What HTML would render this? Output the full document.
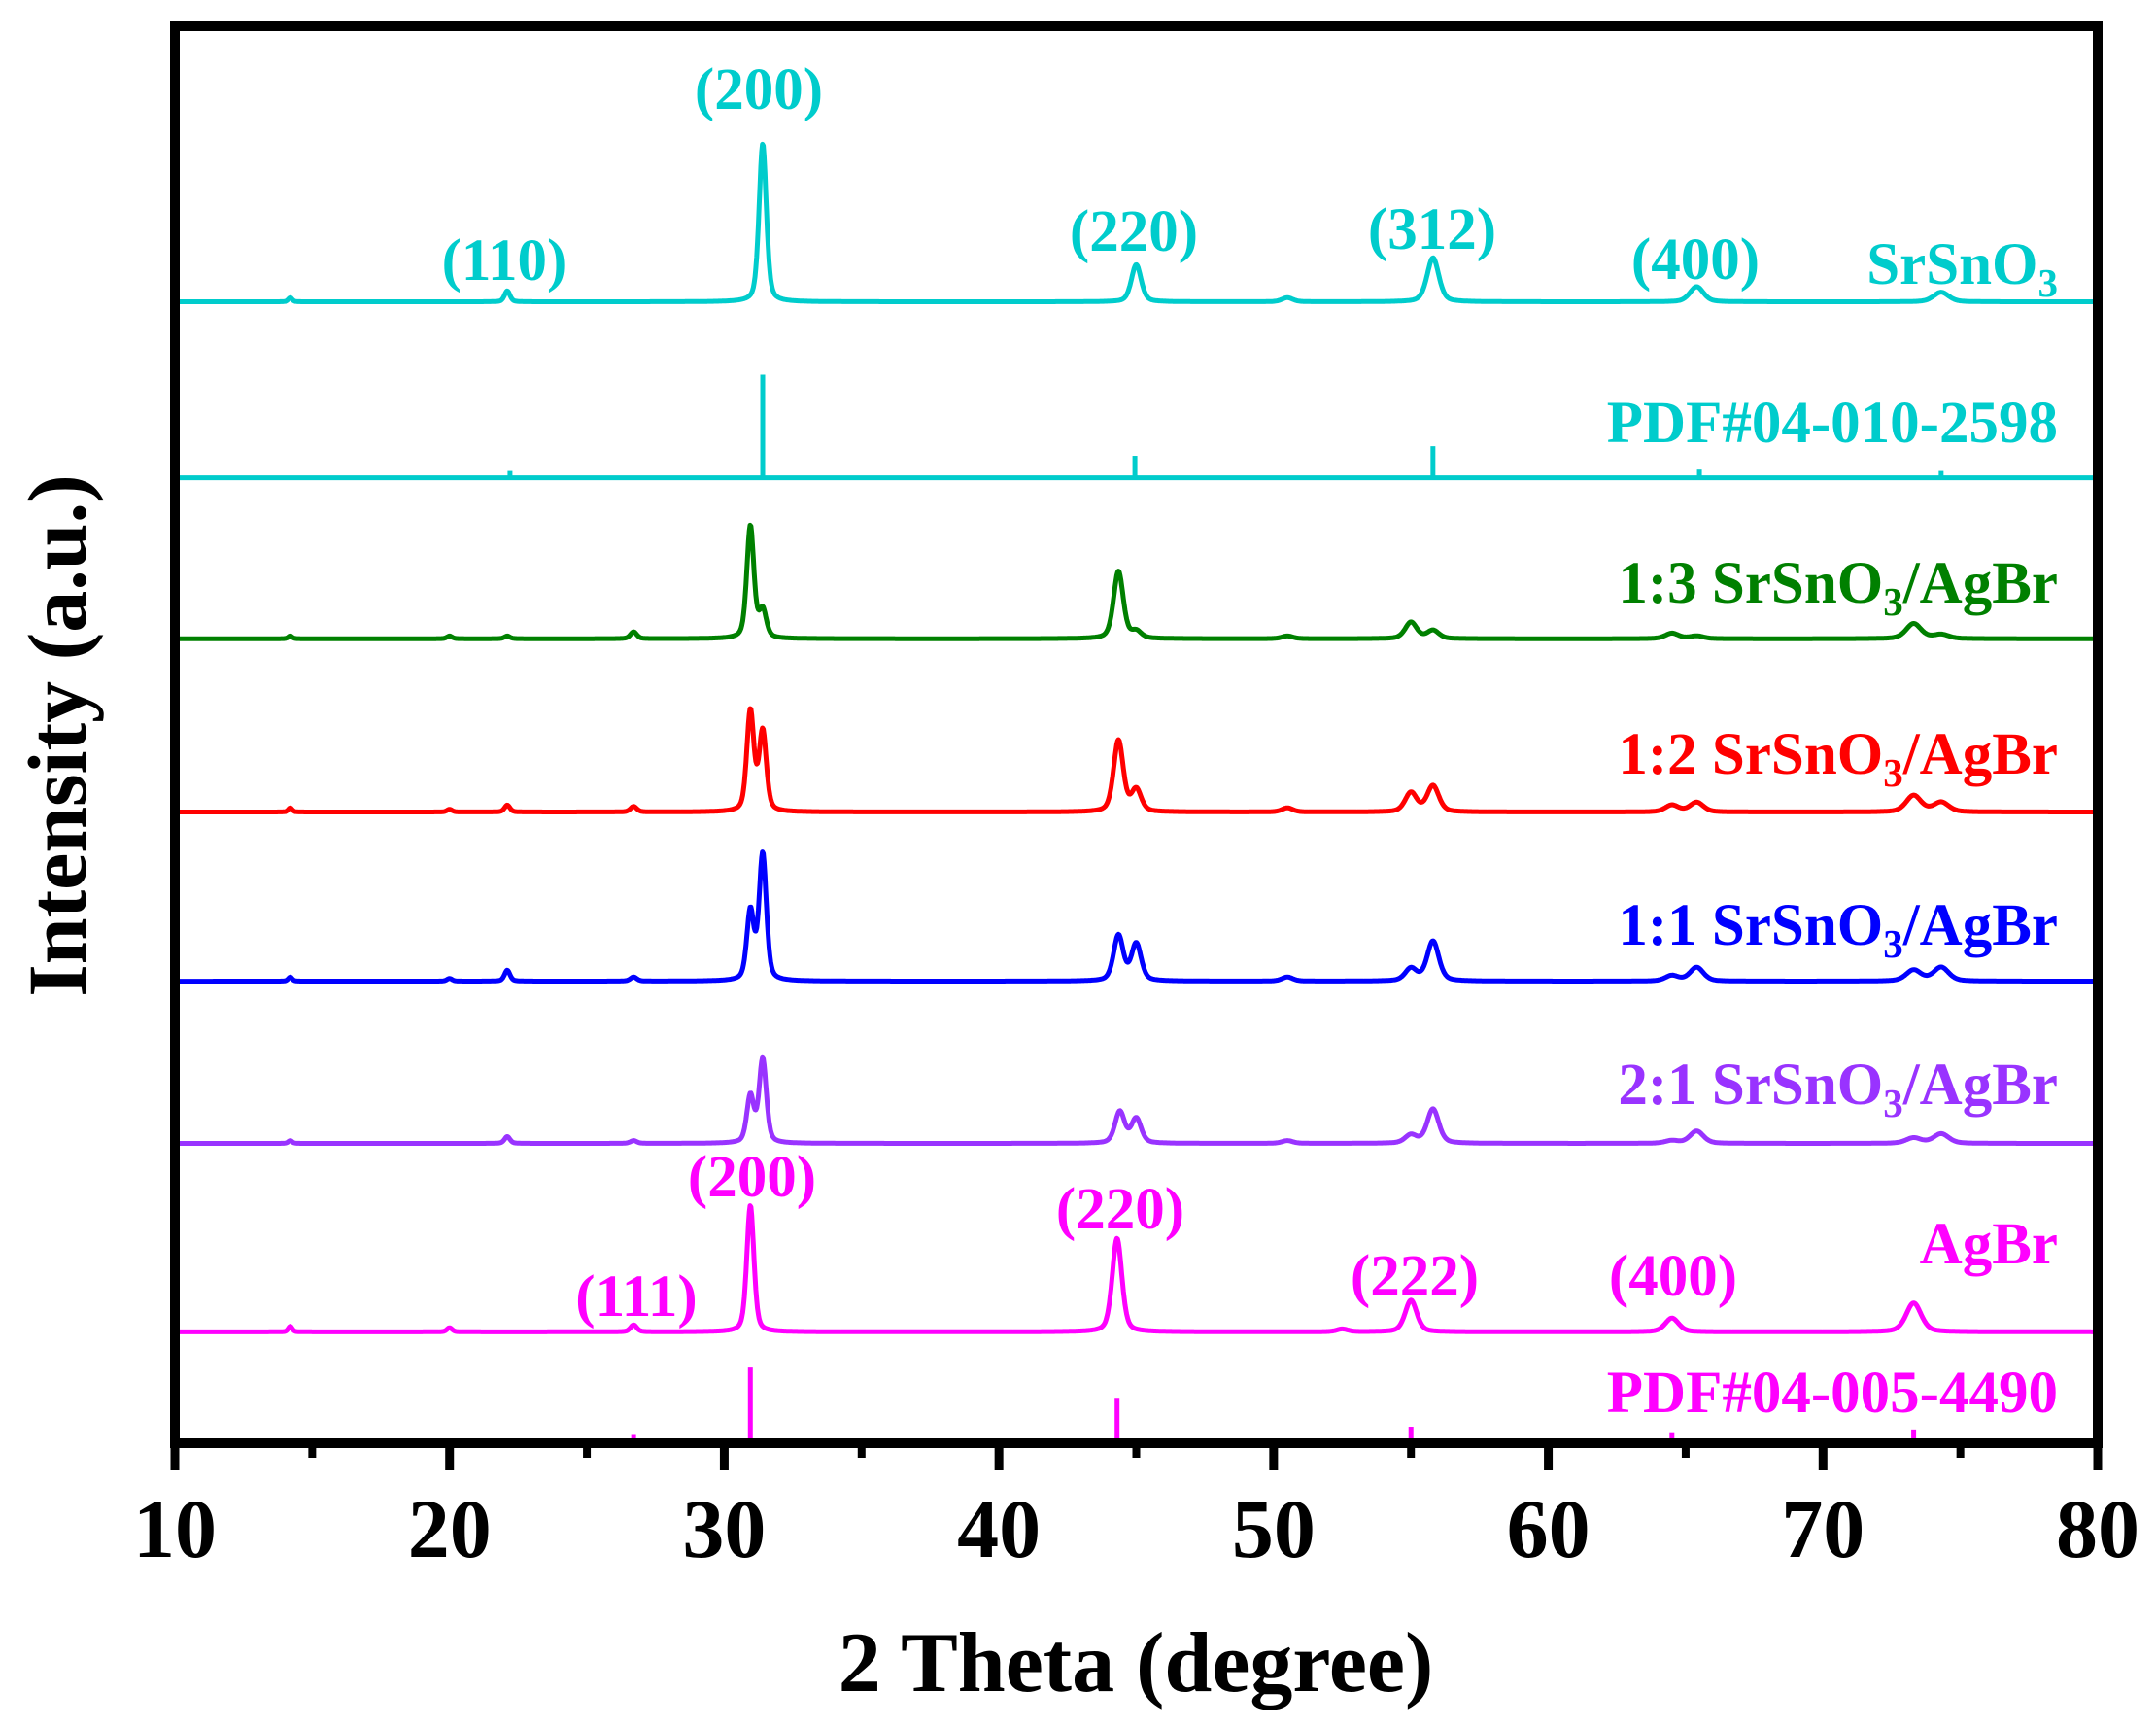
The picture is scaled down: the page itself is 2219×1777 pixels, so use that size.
<!DOCTYPE html>
<html><head><meta charset="utf-8">
<style>
html,body{margin:0;padding:0;background:#fff;}
svg{display:block;}
text{font-family:"Liberation Serif",serif;font-weight:bold;}
</style></head>
<body>
<svg id="chart" width="2219" height="1777" viewBox="0 0 2219 1777" xmlns="http://www.w3.org/2000/svg">
<g id="series"></g>
<g id="sticks"></g>
<g id="axes"></g>
<g id="labels"></g>
</svg>
<script>
// ---- data ----
const xTicks = [10,20,30,40,50,60,70,80];
const xMinorTicks = [15,25,35,45,55,65,75];
const seriesNames = ["SrSnO3","1:3 SrSnO3/AgBr","1:2 SrSnO3/AgBr","1:1 SrSnO3/AgBr","2:1 SrSnO3/AgBr","AgBr"];
const seriesOffsets = [830,585,459,336,218,81]; // baseline intensity offsets (a.u.)
const srPos = [14.2,22.1,31.4,45.0,50.5,55.8,65.4,74.3];
const srInt = [3,8,115,27,3,32,11,7];
const r13Pos = [14.2,20.0,22.1,26.7,30.95,31.4,44.35,45.0,50.5,55.0,55.8,64.5,65.4,73.3,74.3];
const r13Int = [2,2,2,5,82,20,49,5,2,12,6,4,2,11,3];
const r12Pos = [14.2,20.0,22.1,26.7,30.95,31.4,44.35,45.0,50.5,55.0,55.8,64.5,65.4,73.3,74.3];
const r12Int = [3,2,5,4,73,58,52,16,3,14,19,5,7,12,7];
const r11Pos = [14.2,20.0,22.1,26.7,30.95,31.4,44.35,45.0,50.5,55.0,55.8,64.5,65.4,73.3,74.3];
const r11Int = [3,2,8,3,50,92,33,27,3,9,29,4,10,8,10];
const r21Pos = [14.2,22.1,26.7,30.95,31.4,44.4,45.0,50.5,55.0,55.8,64.5,65.4,73.3,74.3];
const r21Int = [2,5,2,34,61,23,18,2,6,25,2,9,4,7];
const agPos = [14.2,20.0,26.7,30.95,44.3,52.5,55.0,64.5,73.3];
const agInt = [4,3,5,92,68,2,23,10,21];
const seriesPos = [srPos,r13Pos,r12Pos,r11Pos,r21Pos,agPos];
const seriesInt = [srInt,r13Int,r12Int,r11Int,r21Int,agInt];
const seriesColors = ["#00CCCC","#008000","#FF0000","#0000FF","#9933FF","#FF00FF"];
const pdf1Pos = [22.2,31.4,44.95,55.8,65.5,74.3];
const pdf1Int = [5,75,16,23,6,5];
const pdf1Offset = 702;
const pdf2Pos = [26.7,30.95,44.3,52.5,55.0,64.5,71.0,73.3];
const pdf2Int = [6,55,33,3,12,8,3,10];
const pdf2Offset = 0;

// ---- scales ----
const X0=180, X1=2159, YB=1485, YT=27;
const xs = v => X0 + (v-10)/(80-10)*(X1-X0);
const ys = v => YB - v*1.415;
const NS="http://www.w3.org/2000/svg";
function el(tag, attrs, parent){const e=document.createElementNS(NS,tag);for(const k in attrs)e.setAttribute(k,attrs[k]);parent.appendChild(e);return e;}

// ---- series ----
const gS=document.getElementById('series');
seriesNames.forEach((name,i)=>{
  const pos=seriesPos[i], inten=seriesInt[i], off=seriesOffsets[i];
  let d="";
  for(let t=10;t<=80.0001;t+=0.03){
    let v=0;
    for(let k=0;k<pos.length;k++){
      const w=0.15+0.004*(pos[k]-30);
      const dx=(t-pos[k])/w;
      v+=inten[k]*(0.6*Math.exp(-dx*dx*0.69)+0.4/(1+dx*dx));
    }
    d+=(d?"L":"M")+xs(t).toFixed(1)+","+ys(off+v).toFixed(1);
  }
  const p=el('path',{d:d,fill:'none',stroke:seriesColors[i],'stroke-width':5,'stroke-linejoin':'round'},gS);
  
  
});

// ---- reference sticks ----
const gK=document.getElementById('sticks');
function sticks(pos,inten,off,color,nm){
  const b=el('line',{x1:X0,x2:X1,y1:ys(off),y2:ys(off),stroke:color,'stroke-width':5},gK);
  
  
  pos.forEach((p,k)=>{
    const s=el('line',{x1:xs(p),x2:xs(p),y1:ys(off),y2:ys(off+inten[k]),stroke:color,'stroke-width':5},gK);
    
    
  });
}
sticks(pdf1Pos,pdf1Int,pdf1Offset,"#00CCCC","pdf-srsno3");
sticks(pdf2Pos,pdf2Int,pdf2Offset,"#FF00FF","pdf-agbr");

// ---- axes ----
const gA=document.getElementById('axes');
const frame=el('rect',{x:X0,y:YT,width:X1-X0,height:YB-YT,fill:'none',stroke:'#000','stroke-width':10},gA);


xTicks.forEach(v=>{
  const t=el('line',{x1:xs(v),x2:xs(v),y1:YB,y2:YB+28,stroke:'#000','stroke-width':9},gA);
  
  
  const l=el('text',{x:xs(v),y:1602,'text-anchor':'middle','font-size':86,fill:'#000'},gA);
  l.textContent=v;
  
  
});
xMinorTicks.forEach(v=>{
  const t=el('line',{x1:xs(v),x2:xs(v),y1:YB,y2:YB+15,stroke:'#000','stroke-width':8},gA);
  
  
});

// ---- labels ----
const gL=document.getElementById('labels');
function txt(s,x,y,size,color,anchor,nm,html){
  const t=el('text',{x:x,y:y,'font-size':size,fill:color,'text-anchor':anchor},gL);
  if(html){t.innerHTML=s;}else{t.textContent=s;}
  
  
  return t;
}
const F=61;
const sub='<tspan font-size="41" dy="13">3</tspan>';
const ag='<tspan dy="-13">/AgBr</tspan>';
txt('SrSnO'+sub,2118,292,F,'#00CCCC','end','label-srsno3',true);
txt('PDF#04-010-2598',2118,455,F,'#00CCCC','end','label-pdf-04-010-2598');
txt('1:3 SrSnO'+sub+ag,2118,620,F,'#008000','end','label-1-3',true);
txt('1:2 SrSnO'+sub+ag,2118,796,F,'#FF0000','end','label-1-2',true);
txt('1:1 SrSnO'+sub+ag,2118,972,F,'#0000FF','end','label-1-1',true);
txt('2:1 SrSnO'+sub+ag,2118,1136,F,'#9933FF','end','label-2-1',true);
txt('AgBr',2118,1300,F,'#FF00FF','end','label-agbr');
txt('PDF#04-005-4490',2118,1453,F,'#FF00FF','end','label-pdf-04-005-4490');
txt('(110)',519,288,F,'#00CCCC','middle','hkl-110');
txt('(200)',781,112,F,'#00CCCC','middle','hkl-200-srsno3');
txt('(220)',1167,258,F,'#00CCCC','middle','hkl-220-srsno3');
txt('(312)',1474,256,F,'#00CCCC','middle','hkl-312');
txt('(400)',1745,287,F,'#00CCCC','middle','hkl-400-srsno3');
txt('(111)',655,1354,F,'#FF00FF','middle','hkl-111');
txt('(200)',774,1231,F,'#FF00FF','middle','hkl-200-agbr');
txt('(220)',1153,1264,F,'#FF00FF','middle','hkl-220-agbr');
txt('(222)',1456,1333,F,'#FF00FF','middle','hkl-222');
txt('(400)',1722,1333,F,'#FF00FF','middle','hkl-400-agbr');
txt('2 Theta (degree)',1169,1740,88,'#000','middle','x-axis-title');
const yt=txt('Intensity (a.u.)',0,0,86,'#000','middle','y-axis-title');
yt.setAttribute('transform','translate(88,757) rotate(-90)');
</script>
</body></html>
